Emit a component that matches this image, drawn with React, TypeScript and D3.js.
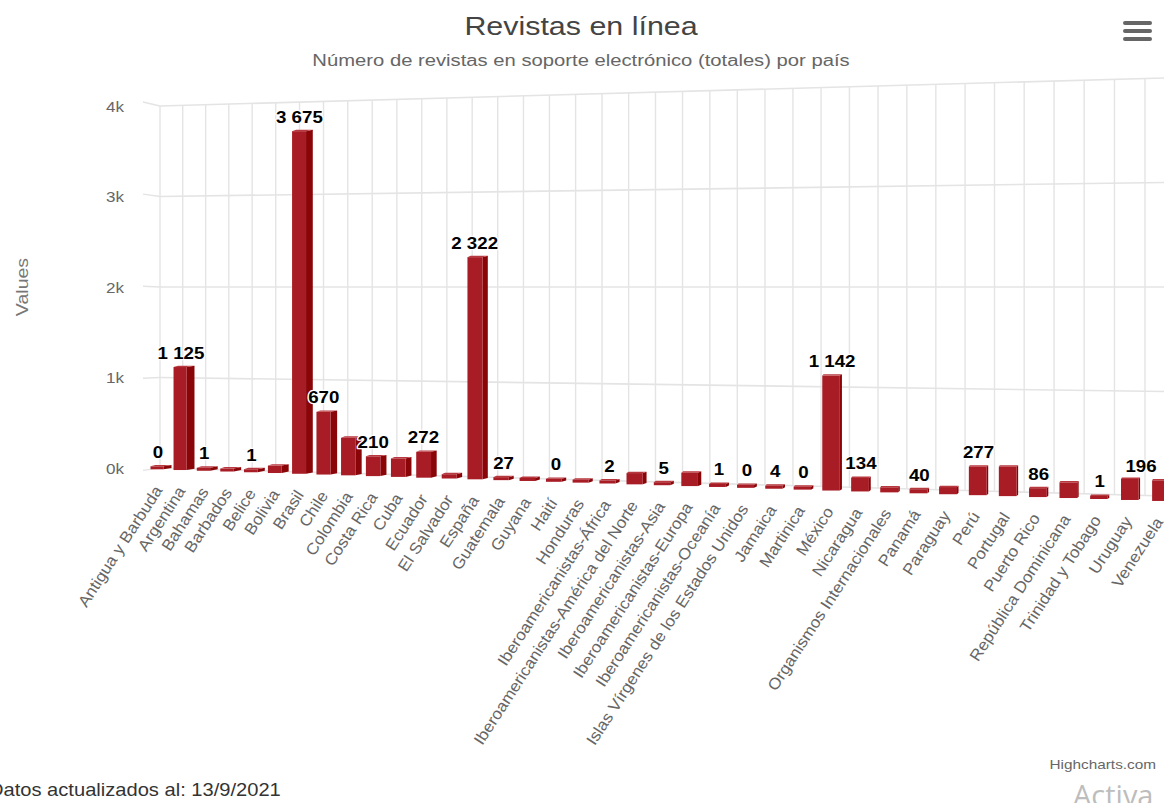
import React from "react";
import * as d3 from "d3";

const categories = ["Antigua y Barbuda","Argentina","Bahamas","Barbados","Belice","Bolivia","Brasil","Chile","Colombia","Costa Rica","Cuba","Ecuador","El Salvador","España","Guatemala","Guyana","Haití","Honduras","Iberoamericanistas-África","Iberoamericanistas-América del Norte","Iberoamericanistas-Asia","Iberoamericanistas-Europa","Iberoamericanistas-Oceanía","Islas Vírgenes de los Estados Unidos","Jamaica","Martinica","México","Nicaragua","Organismos Internacionales","Panamá","Paraguay","Perú","Portugal","Puerto Rico","República Dominicana","Trinidad y Tobago","Uruguay","Venezuela"];
const values = [0,1125,1,8,1,80,3675,670,400,210,195,272,45,2322,27,12,0,15,2,115,5,135,1,0,4,0,1142,134,50,40,70,277,285,86,150,1,200,196];
const labelled = [1,1,1,0,1,0,1,1,0,1,0,1,0,1,1,0,1,0,1,0,1,0,1,1,1,1,1,1,0,1,0,1,0,1,0,1,0,1];
const yTicks = [0,1000,2000,3000,4000];
const yTickLabels = ["0k","1k","2k","3k","4k"];

const W = 1164, H = 803;
const xLeft = 160, xRight = 1164;
const font = "'Liberation Sans', Arial, sans-serif";

// depth of the 3D view: how much one value unit is worth at a given x, pivoting round 2k
const unit = d3.scaleLinear().domain([xLeft, xRight]).range([0.0905, 0.1045]);
const barUnit = (x: number) => unit(x) * 1.008;
const backY = (v: number, x: number) => 287 + (2000 - v) * unit(x);
const frontFloor = d3.scaleLinear().domain([183, 1163]).range([470, 501]);
const barX = (i: number) => 161 + 22.9 * i + 0.112 * i * i;
const gridX = (i: number) => 160 + 22.6 * i + 0.1087 * i * i;
const sideW = d3.scaleLinear().domain([160, 900]).range([8, 1.5]).clamp(true);
const barW = d3.scaleLinear().domain([160, 1163]).range([21, 19]);

const grid = "#e4e4e4";

function Stretch({ x, y, k, anchor, children, ...rest }: any) {
  return (
    <text transform={`translate(${x},${y}) scale(${k},1)`} textAnchor={anchor} fontFamily={font} {...rest}>
      {children}
    </text>
  );
}

export default function App() {
  const fmt = (v: number) => (v >= 1000 ? `${Math.floor(v / 1000)} ${String(v % 1000).padStart(3, "0")}` : String(v));
  return (
    <svg width={W} height={H} viewBox={`0 0 ${W} ${H}`} style={{ position: "fixed", left: 0, top: 0, background: "#fff" }}>
      <Stretch x={581} y={35} k={1.17} anchor="middle" fontSize={26} fill="#444">Revistas en línea</Stretch>
      <Stretch x={581} y={66} k={1.17} anchor="middle" fontSize={17.3} fill="#666">Número de revistas en soporte electrónico (totales) por país</Stretch>

      {[23, 31, 39].map((y) => (
        <line key={y} x1={1125} x2={1150} y1={y} y2={y} stroke="#666" strokeWidth={4} strokeLinecap="round" />
      ))}

      {/* vertical grid */}
      {categories.map((_, i) => {
        const x = gridX(i);
        return <line key={i} x1={x} x2={x} y1={backY(4000, x)} y2={backY(0, x)} stroke={grid} strokeWidth={1.4} />;
      })}
      {/* horizontal grid and ticks */}
      {yTicks.map((t, i) => (
        <g key={t}>
          <line x1={xLeft} x2={xRight} y1={backY(t, xLeft)} y2={backY(t, xRight)} stroke={grid} strokeWidth={1.6} />
          <line x1={143} x2={xLeft} y1={backY(t, xLeft) - (t - 1500) * 0.0016} y2={backY(t, xLeft)} stroke={grid} strokeWidth={1.4} />
          <Stretch x={124} y={backY(t, xLeft) + 5.5} k={1.1} anchor="end" fontSize={15.5} fill="#666">{yTickLabels[i]}</Stretch>
        </g>
      ))}
      <text transform="translate(28,287) rotate(-90) scale(1.15,1)" textAnchor="middle" fontFamily={font} fontSize={17} fill="#777">Values</text>

      {/* bars */}
      {values.map((v, i) => {
        const c = barX(i);
        const w = barW(c);
        const s = sideW(c);
        const x0 = c - w / 2;
        const x1 = x0 + w - s;
        const x2 = x0 + w;
        const base = frontFloor(c);
        const top = Math.min(base - v * barUnit(c), base - 3);
        const lift = 1.4;
        return (
          <g key={i}>
            <polygon points={`${x1},${top} ${x2},${top - lift} ${x2},${base - lift} ${x1},${base}`} fill="#8a0508" />
            <rect x={x0} y={top} width={x1 - x0} height={base - top} fill="#a71c25" />
            <polygon points={`${x0},${top} ${x1},${top} ${x2},${top - lift} ${x0 + s * 0.6},${top - lift}`} fill="#b8383f" />
          </g>
        );
      })}

      {/* data labels */}
      {values.map((v, i) => {
        if (!labelled[i]) return null;
        const c = barX(i);
        const base = frontFloor(c);
        const top = Math.min(base - v * barUnit(c), base - 3);
        const x = Math.min(c - (c < 500 ? 3 : 0), 1141);
        return (
          <Stretch key={i} x={x} y={top - 8.5} k={1.17} anchor="middle" fontSize={16} fontWeight="bold" fill="#000"
            stroke="#fff" strokeWidth={2.5} paintOrder="stroke" strokeLinejoin="round">{fmt(v)}</Stretch>
        );
      })}

      {/* category labels */}
      {categories.map((name, i) => {
        const c = barX(i);
        return (
          <text key={name} transform={`translate(${c + 2},${frontFloor(c) + 21}) rotate(-57) scale(1.07,1)`} textAnchor="end"
            fontFamily={font} fontSize={16} fill="#666">{name}</text>
        );
      })}

      <Stretch x={1156} y={769} k={1.18} anchor="end" fontSize={13} fill="#666">Highcharts.com</Stretch>
      <Stretch x={-11} y={796} k={1.15} anchor="start" fontSize={17.5} fill="#333">Datos actualizados al: 13/9/2021</Stretch>
      <text x={1073} y={806} fontFamily="'Open Sans', sans-serif" fontSize={29} fill="#bdbdbd">Activa</text>
    </svg>
  );
}
